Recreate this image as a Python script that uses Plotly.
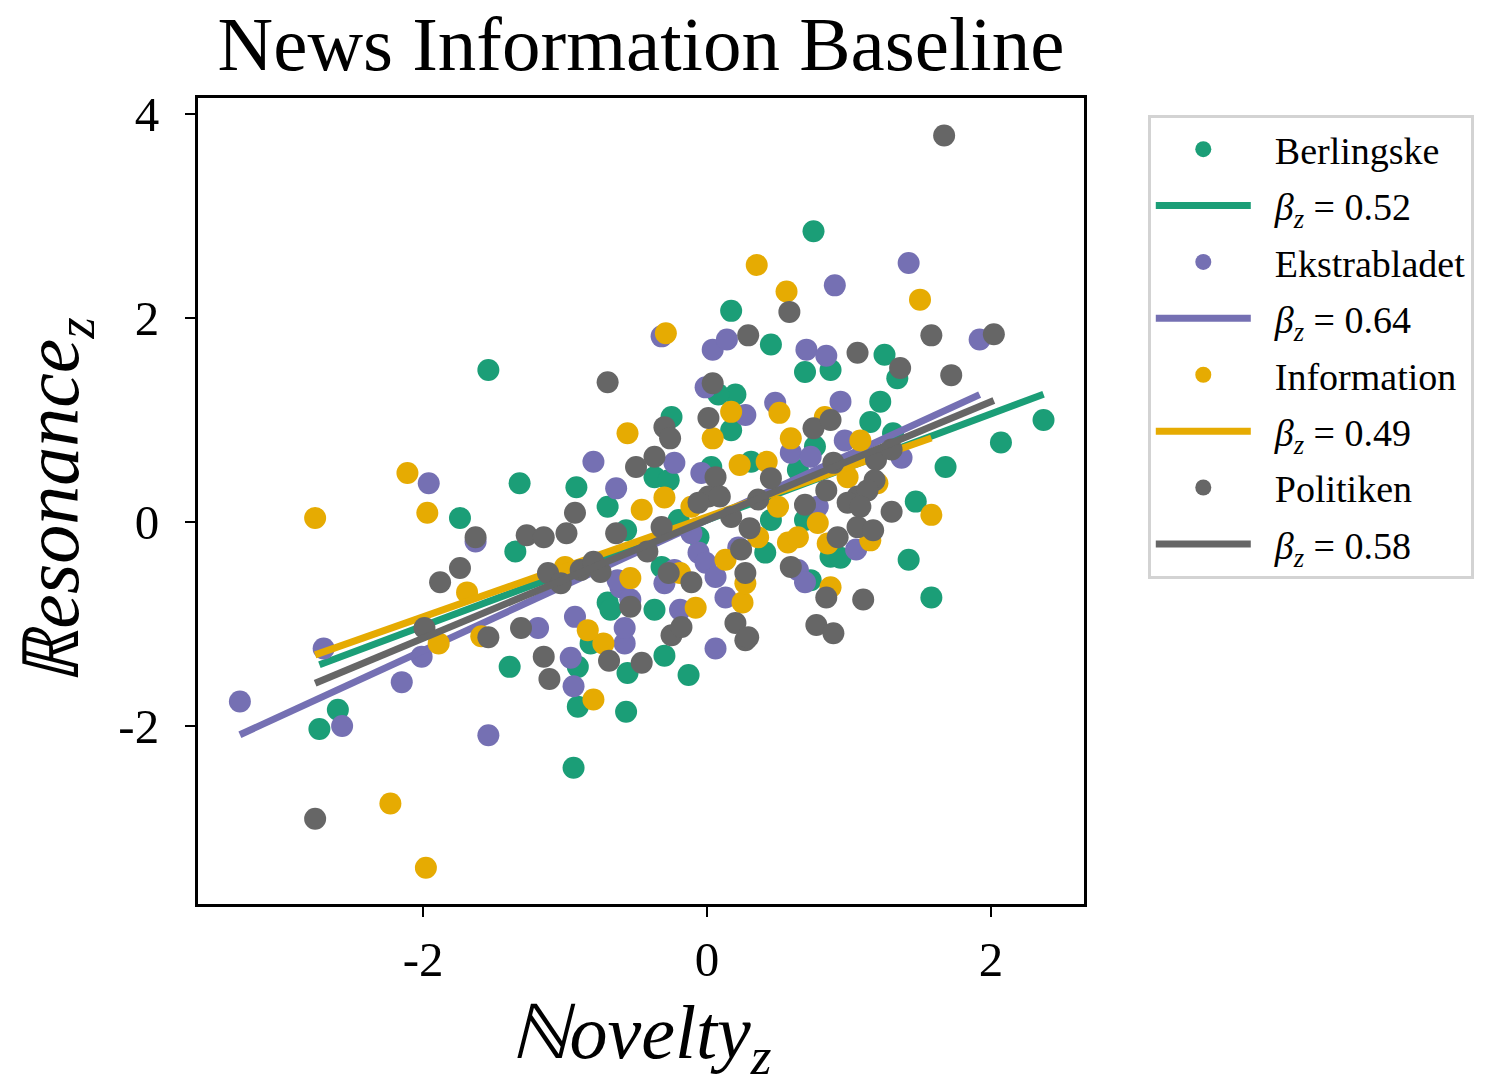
import numpy as np
import plotly.graph_objects as go

# ---------------- data ----------------
series_names = ["Berlingske", "Ekstrabladet", "Information", "Politiken"]
betas = [0.52, 0.64, 0.49, 0.58]
intercepts = [0.02, 0.02, 0.05, 0.02]
colors = ["#1b9e77", "#7570b3", "#e6ab02", "#666666"]

berlingske_x = [-1.54, 0.75, 0.17, 0.45, 1.25, 0.69, 0.87, 1.34, 1.22, 1.15, 1.68, 2.07, 2.37, 1.47,
                1.42, 1.58, 0.87, 0.94, 0.73, 0.76, 1.31, -1.39, -0.91, -0.91, -0.56, -0.57, -0.30, -0.13,
                -0.94, -0.82, -2.60, -2.73, -1.32, -0.92, -0.70, -1.35, -0.25, 0.20, 0.17, 0.08, -0.37,
                -0.27, -0.20, -0.06, -0.57, -0.32, -0.70, -0.68, -0.37, 0.03, 0.31, 0.41, 0.45, 0.64,
                -1.74, 0.69]
berlingske_y = [1.49, 2.85, 2.07, 1.74, 1.64, 1.47, 1.49, 1.41, 1.18, 0.98, 0.54, 0.78, 1.00, 0.20,
                -0.37, -0.74, -0.34, -0.35, -0.57, 0.74, 0.87, -1.42, -1.42, -1.81, -1.48, -1.86, -1.31, -1.50,
                -2.41, -1.19, -1.84, -2.03, 0.38, 0.34, 0.15, -0.29, 1.03, 1.25, 0.90, 1.25, 0.44,
                0.41, 0.02, -0.15, -0.08, -0.44, -0.79, -0.86, -0.86, 0.54, 0.59, -0.30, 0.02, 0.51,
                0.04, 0.02]

ekstrabladet_x = [-3.29, -2.70, -2.57, -2.15, -2.01, -1.96, -1.63, -1.54, -0.96, -0.94, -0.58, 0.06,
                  -0.80, -0.64, -0.23, -0.04, -0.01, 0.27, 0.48, 0.59, -0.06, -0.01, 0.06, 0.13, 0.22,
                  -0.23, -0.30, -0.61, -0.54, -0.63, -1.19, -0.93, -0.58, -0.19, 0.64, -0.11, -0.32,
                  0.04, 0.14, 0.70, 0.84, 0.90, 1.42, 1.92, 0.94, 0.97, 0.73, 1.37, 0.78, 1.05, 0.69]
ekstrabladet_y = [-1.76, -1.24, -2.00, -1.57, -1.32, 0.38, -0.19, -2.09, -1.33, -1.61, -1.19, -1.24,
                  0.59, 0.33, 0.58, 0.48, 1.32, 1.05, 1.17, 0.68, -0.30, -0.40, -0.54, -0.74, -0.25,
                  -0.47, -0.60, -0.64, -0.76, -0.57, -1.04, -0.93, -1.04, -0.86, -0.47, -0.11, 1.82,
                  1.69, 1.79, 1.69, 1.63, 2.32, 2.54, 1.79, 1.18, 0.80, 0.64, 0.63, 0.15, -0.27, -0.59]

information_x = [-2.76, -2.11, -1.97, -1.69, -2.23, -1.98, -1.89, -1.59, -0.80, -0.73, -0.84, 0.35,
                 0.56, -0.29, 1.50, -0.56, -0.30, -0.46, 0.04, 0.17, 0.51, 0.59, 0.23, 0.42, -0.54,
                 -1.00, -0.08, 0.25, 0.27, 0.13, 0.36, 0.50, 0.57, -0.19, -0.11, 1.08, 1.58, 1.20,
                 0.78, 0.64, 0.85, 1.15, 0.87, 0.83, 0.99]
information_y = [0.04, 0.48, 0.09, -0.69, -2.76, -3.39, -1.19, -1.12, -1.74, -1.19, -1.06, 2.52,
                 2.26, 1.85, 2.18, 0.87, 0.24, 0.12, 0.82, 1.08, 1.07, 0.82, 0.56, 0.59, -0.55,
                 -0.44, -0.84, -0.79, -0.60, -0.37, -0.15, 0.15, -0.20, -0.50, 0.15, 0.80, 0.07, 0.38,
                 -0.01, -0.15, -0.21, -0.18, -0.64, 1.03, 0.44]

politiken_x = [1.67, 1.58, 2.02, 1.06, 1.36, 1.72, 0.29, 0.58, -1.63, -1.74, -1.88, -1.99, -1.54,
               -2.76, -1.15, -1.11, -0.69, -0.46, -0.25, 0.27, -0.70, 0.04, 0.01, -0.30, -0.26, -0.37,
               -0.50, -0.93, -0.99, -1.27, -1.15, -0.64, -0.32, -0.42, 0.06, 0.01, -0.06, 0.09, 0.45,
               0.36, 0.17, 0.30, 0.24, 0.27, -0.27, -0.11, -1.12, -1.03, -0.89, -0.80, -0.75, -0.54,
               -1.31, -0.18, 0.20, 0.29, 0.59, 0.75, 0.87, 0.89, 1.19, 1.30, 0.84, 0.69, 1.06, 1.18,
               1.13, 0.99, 1.08, 1.30, 1.06, 1.17, 0.92, 0.84, 1.10, 0.77, 0.89]
politiken_y = [3.79, 1.83, 1.84, 1.66, 1.51, 1.44, 1.83, 2.06, -0.15, -0.45, -0.59, -1.04, -1.13,
               -2.91, -1.32, -1.54, -1.36, -1.38, -1.11, -1.16, 1.37, 1.36, 1.02, 0.93, 0.82, 0.64,
               0.54, 0.09, -0.11, -0.13, -0.15, -0.11, -0.05, -0.29, 0.44, 0.25, 0.19, 0.25, 0.43,
               0.22, 0.05, -0.06, -0.27, -0.50, -0.50, -0.59, -0.50, -0.60, -0.47, -0.39, -0.49, -0.83,
               -1.04, -1.03, -0.99, -1.13, -0.44, 0.92, 1.00, 0.58, 0.61, 0.71, 0.31, 0.17, 0.25, 0.41,
               0.31, 0.19, 0.15, 0.10, -0.05, -0.08, -0.15, -0.74, -0.76, -1.01, -1.09]

xs = [berlingske_x, ekstrabladet_x, information_x, politiken_x]
ys = [berlingske_y, ekstrabladet_y, information_y, politiken_y]

x_ticks = [-2, 0, 2]
x_tick_labels = ["-2", "0", "2"]
y_ticks = [-2, 0, 2, 4]
y_tick_labels = ["-2", "0", "2", "4"]

# ---------------- figure ----------------
FONT = "Liberation Serif, Times New Roman, DejaVu Serif, serif"
PAD = "\u00a0\u00a0"  # small gap between legend symbol and label
fig = go.Figure()

for i, name in enumerate(series_names):
    x = np.array(xs[i])
    y = np.array(ys[i])
    fig.add_trace(go.Scatter(
        x=x, y=y, mode="markers", name=PAD + name,
        legendgroup="g%d" % (2 * i),
        marker=dict(color=colors[i], size=22, line=dict(width=0)),
    ))
    lx = np.array([x.min(), x.max()])
    ly = intercepts[i] + betas[i] * lx
    fig.add_trace(go.Scatter(
        x=lx, y=ly, mode="lines",
        name=PAD + "<i>β<sub>z</sub></i> = %.2f" % betas[i],
        legendgroup="g%d" % (2 * i + 1),
        line=dict(color=colors[i], width=7),
    ))

axis_common = dict(
    showgrid=False, zeroline=False, automargin=False,
    showline=True, linecolor="black", linewidth=3, mirror=True,
    ticks="outside", ticklen=10, tickwidth=2, tickcolor="black",
    tickfont=dict(family=FONT, size=49, color="black"),
)

fig.update_layout(
    width=1498, height=1091,
    margin=dict(l=190, r=422, t=90, b=195, autoexpand=False),
    paper_bgcolor="white", plot_bgcolor="white",
    font=dict(family=FONT, color="black"),
    title=dict(text="News Information Baseline", x=633 / 1498, xanchor="center",
               y=1 - 8 / 1091, yanchor="top",
               font=dict(family=FONT, size=77, color="black")),
    xaxis=dict(range=[-3.585, 2.655], tickvals=x_ticks, ticktext=x_tick_labels,
               title=dict(text="<i>ℕovelty<sub>z</sub></i>", standoff=20,
                          font=dict(family=FONT, size=76, color="black")),
               **axis_common),
    yaxis=dict(range=[-3.745, 4.157], tickvals=y_ticks, ticktext=y_tick_labels,
               ticklabelstandoff=16,
               title=dict(text="<i>ℝesonance<sub>z</sub></i>", standoff=30,
                          font=dict(family=FONT, size=78, color="black")),
               **axis_common),
    legend=dict(x=1.072, y=0.979, xanchor="left", yanchor="top",
                bgcolor="white", bordercolor="#d3d3d3", borderwidth=3,
                font=dict(family=FONT, size=38, color="black"),
                tracegroupgap=4, itemwidth=95),
    showlegend=True,
)

fig.write_html("out.html")
